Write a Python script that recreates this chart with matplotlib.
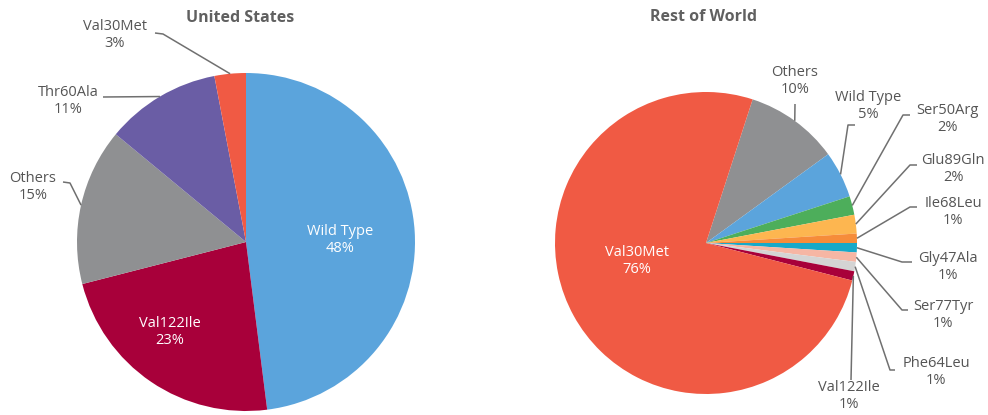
import numpy as np
import matplotlib.pyplot as plt

plt.rcParams['font.family'] = ['Open Sans', 'DejaVu Sans']

W, H = 988, 415

# United States
us_labels = ['Wild Type', 'Val122Ile', 'Others', 'Thr60Ala', 'Val30Met']
us_values = [48, 23, 15, 11, 3]
us_colors = ['#5BA4DC', '#A8003A', '#8F9092', '#6A5DA5', '#F05A44']

# Rest of World
row_labels = ['Others', 'Wild Type', 'Ser50Arg', 'Glu89Gln', 'Ile68Leu',
              'Gly47Ala', 'Ser77Tyr', 'Phe64Leu', 'Val122Ile', 'Val30Met']
row_values = [10, 5, 2, 2, 1, 1, 1, 1, 1, 76]
row_colors = ['#8F9092', '#5BA4DC', '#4DAE5B', '#FDB650', '#F68C3A',
              '#17A9C9', '#F6B6A4', '#D4D4D4', '#A8003A', '#F05A44']

text_color = '#555555'
line_color = '#707070'

fig = plt.figure(figsize=(W / 100, H / 100), dpi=100)
ax = fig.add_axes([0, 0, 1, 1])


def py(y):
    # pixel row (top-down) -> data y
    return H - y


def mid_points(values, start, center, r):
    vals = np.array(values, dtype=float)
    frac = vals / vals.sum()
    cum = np.concatenate([[0], np.cumsum(frac)[:-1]])
    mids = start - 360 * (cum + frac / 2)
    rad = np.deg2rad(mids)
    return [(center[0] + r * np.cos(a), center[1] + r * np.sin(a)) for a in rad]


us_center, us_r, us_start = (246, py(242)), 169, 90
row_center, row_r, row_start = (706, py(243)), 151, 72

ax.pie(us_values, colors=us_colors, startangle=us_start, counterclock=False,
       center=us_center, radius=us_r, wedgeprops=dict(linewidth=0))
ax.pie(row_values, colors=row_colors, startangle=row_start, counterclock=False,
       center=row_center, radius=row_r, wedgeprops=dict(linewidth=0))

ax.set_xlim(0, W)
ax.set_ylim(0, H)
ax.set_aspect('equal')
ax.axis('off')

# titles
ax.text(240, py(18), 'United States', ha='center', va='center',
        fontsize=11.5, fontweight='bold', color='#606060')
ax.text(703, py(17), 'Rest of World', ha='center', va='center',
        fontsize=11.5, fontweight='bold', color='#606060')

# labels inside slices
inside_kw = dict(ha='center', va='center', fontsize=10.5, color='white',
                 linespacing=1.25, fontweight='medium')
ax.text(340, py(240), f'{us_labels[0]}\n{us_values[0]}%', **inside_kw)
ax.text(170, py(332), f'{us_labels[1]}\n{us_values[1]}%', **inside_kw)
ax.text(637, py(261), f'{row_labels[9]}\n{row_values[9]}%', **inside_kw)

# outside labels: (index, text position, elbow points in pixels)
us_pts = mid_points(us_values, us_start, us_center, us_r)
us_out = [
    (2, (33, 187), [(63, 182), (70, 183)]),
    (3, (68, 101), [(103, 97)]),
    (4, (115, 35), [(155, 33), (163, 34)]),
]

row_pts = mid_points(row_values, row_start, row_center, row_r)
row_out = [
    (0, (795, 81), [(795, 104)]),
    (1, (868, 106), [(855, 125), (848, 125)]),
    (2, (947, 119), [(910, 115), (903, 115)]),
    (3, (953, 169), [(917, 165), (910, 165)]),
    (4, (953, 212), [(917, 207), (910, 207)]),
    (5, (948, 267), [(912, 262), (902, 262)]),
    (6, (943, 315), [(908, 310), (902, 310)]),
    (7, (936, 372), [(895, 370), (890, 370)]),
    (8, (849, 396), [(851, 380)]),
]

for labels, values, pts, out in [(us_labels, us_values, us_pts, us_out),
                                 (row_labels, row_values, row_pts, row_out)]:
    for i, (tx, ty), elbow in out:
        ax.text(tx, py(ty), f'{labels[i]}\n{values[i]}%', ha='center', va='center',
                fontsize=10.5, color=text_color, linespacing=1.25, fontweight='medium')
        xs = [p[0] for p in elbow] + [pts[i][0]]
        ys = [py(p[1]) for p in elbow] + [pts[i][1]]
        ax.plot(xs, ys, color=line_color, linewidth=1.1, solid_capstyle='butt')

fig.savefig('out.png', dpi=100)
